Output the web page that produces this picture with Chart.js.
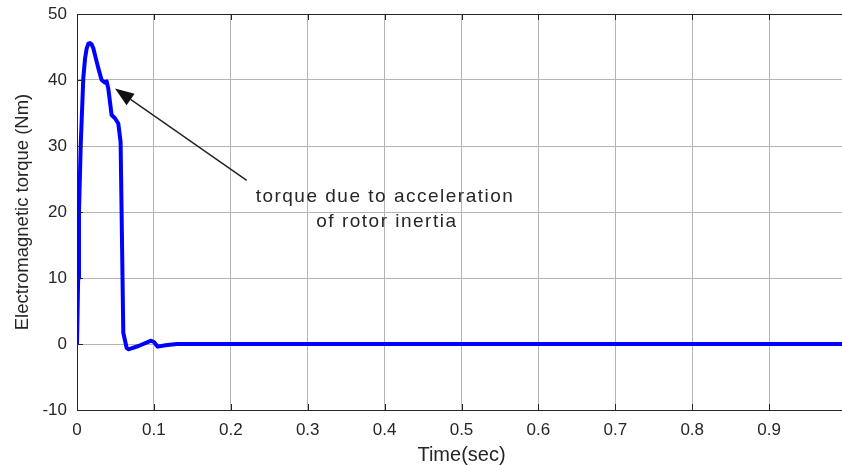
<!DOCTYPE html>
<html>
<head>
<meta charset="utf-8">
<title>Electromagnetic torque</title>
<script src="https://cdn.jsdelivr.net/npm/chart.js@4/dist/chart.umd.min.js"></script>
<style>
  html, body { margin: 0; padding: 0; background: #fff; overflow: hidden; }
  #torqueChart { display: block; }
</style>
</head>
<body>
<canvas id="torqueChart" width="850" height="465"></canvas>
<script>
// simulated torque response, time in seconds
const timeSec = [0, 0.0015, 0.0026, 0.0048, 0.0082, 0.0105, 0.0126, 0.0148, 0.0169, 0.019,
  0.0212, 0.0277, 0.032, 0.0365, 0.0386, 0.0407, 0.045, 0.0494, 0.0537, 0.0567,
  0.0602, 0.0646, 0.0667, 0.08, 0.0964, 0.1, 0.105, 0.115, 0.13, 0.3, 0.6, 1.0];
const torqueNm = [0, 10, 20, 30, 40.3, 43.3, 44.8, 45.5, 45.6, 45.4,
  44.8, 41.8, 40, 39.6, 39.8, 38.7, 34.7, 34.2, 33.4, 30.6,
  1.7, -0.6, -0.8, -0.3, 0.5, 0.3, -0.4, -0.2, 0, 0, 0, 0];

const xTicks = [0, 0.1, 0.2, 0.3, 0.4, 0.5, 0.6, 0.7, 0.8, 0.9];
const yTicks = [-10, 0, 10, 20, 30, 40, 50];

const noteLines = ["torque due to acceleration", "of rotor inertia"];
const notePos = [{ x: 0.4005, y: 22.3 }, { x: 0.403, y: 18.5 }];
const arrowFrom = { x: 0.2207, y: 24.8 };
const arrowTo = { x: 0.0494, y: 38.7 };

const textColor = "#262626";
const font = '"Liberation Sans", Arial, sans-serif';
const points = timeSec.map((t, i) => ({ x: t, y: torqueNm[i] }));

// frame on top plus small inward ticks like a matlab axes box
const boxPlugin = {
  id: "box",
  afterDatasetsDraw(chart) {
    const { ctx, chartArea: a, scales } = chart;
    ctx.save();
    ctx.strokeStyle = textColor;
    ctx.lineWidth = 1;
    ctx.beginPath();
    ctx.moveTo(a.left, a.top + 0.5);
    ctx.lineTo(a.right, a.top + 0.5);
    xTicks.forEach(v => {
      const px = Math.round(scales.x.getPixelForValue(v)) + 0.5;
      ctx.moveTo(px, a.bottom); ctx.lineTo(px, a.bottom - 6);
      ctx.moveTo(px, a.top); ctx.lineTo(px, a.top + 6);
    });
    yTicks.forEach(v => {
      const py = Math.round(scales.y.getPixelForValue(v)) + 0.5;
      ctx.moveTo(a.left, py); ctx.lineTo(a.left + 6, py);
    });
    ctx.stroke();
    ctx.restore();
  }
};

// arrow with text label
const notePlugin = {
  id: "note",
  afterDraw(chart) {
    const { ctx, scales } = chart;
    const x = scales.x, y = scales.y;
    const x0 = x.getPixelForValue(arrowFrom.x), y0 = y.getPixelForValue(arrowFrom.y);
    const x1 = x.getPixelForValue(arrowTo.x), y1 = y.getPixelForValue(arrowTo.y);
    const ang = Math.atan2(y1 - y0, x1 - x0);
    const headLen = 19, headHalf = 7;
    const bx = x1 - headLen * Math.cos(ang), by = y1 - headLen * Math.sin(ang);

    ctx.save();
    ctx.strokeStyle = "#222";
    ctx.fillStyle = "#111";
    ctx.lineWidth = 1.4;
    ctx.beginPath();
    ctx.moveTo(x0, y0);
    ctx.lineTo(bx, by);
    ctx.stroke();
    ctx.beginPath();
    ctx.moveTo(x1, y1);
    ctx.lineTo(bx + headHalf * Math.sin(ang), by - headHalf * Math.cos(ang));
    ctx.lineTo(bx - headHalf * Math.sin(ang), by + headHalf * Math.cos(ang));
    ctx.closePath();
    ctx.fill();

    ctx.font = "19px " + font;
    ctx.letterSpacing = "1.5px";
    ctx.fillStyle = textColor;
    ctx.textAlign = "center";
    ctx.textBaseline = "middle";
    noteLines.forEach((s, i) => {
      ctx.fillText(s, x.getPixelForValue(notePos[i].x), y.getPixelForValue(notePos[i].y));
    });
    ctx.restore();
  }
};

new Chart(document.getElementById("torqueChart"), {
  type: "line",
  data: {
    datasets: [{
      data: points,
      borderColor: "#0000ff",
      borderWidth: 4,
      borderJoinStyle: "round",
      pointRadius: 0,
      tension: 0,
      fill: false
    }]
  },
  options: {
    responsive: false,
    animation: false,
    events: [],
    layout: { padding: { top: 14, right: 4, left: 0, bottom: 0 } },
    plugins: { legend: { display: false }, tooltip: { enabled: false } },
    scales: {
      x: {
        type: "linear",
        min: 0,
        max: 1,
        afterFit: s => { s.height = 55; s.paddingLeft = 0; s.paddingRight = 0; },
        afterBuildTicks: s => { s.ticks = xTicks.map(v => ({ value: v })); },
        ticks: {
          color: textColor,
          padding: 10,
          maxRotation: 0,
          font: { family: font, size: 17 },
          callback: v => String(Math.round(v * 10) / 10)
        },
        grid: { color: "#b4b4b4", lineWidth: 1, drawTicks: false },
        border: { color: textColor, width: 1 },
        title: {
          display: true,
          text: "Time(sec)",
          color: textColor,
          padding: { top: 0, bottom: 0 },
          font: { family: font, size: 20, lineHeight: 1 }
        }
      },
      y: {
        min: -10,
        max: 50,
        afterFit: s => { s.width = 77; s.paddingTop = 0; s.paddingBottom = 0; },
        afterBuildTicks: s => { s.ticks = yTicks.map(v => ({ value: v })); },
        ticks: {
          color: textColor,
          padding: 10,
          font: { family: font, size: 17 }
        },
        grid: { color: "#b4b4b4", lineWidth: 1, drawTicks: false },
        border: { color: textColor, width: 1 },
        title: {
          display: true,
          text: "Electromagnetic torque (Nm)",
          color: textColor,
          padding: { top: 12, bottom: 0 },
          font: { family: font, size: 18.5, lineHeight: 1.2 }
        }
      }
    }
  },
  plugins: [boxPlugin, notePlugin]
});
</script>
</body>
</html>
